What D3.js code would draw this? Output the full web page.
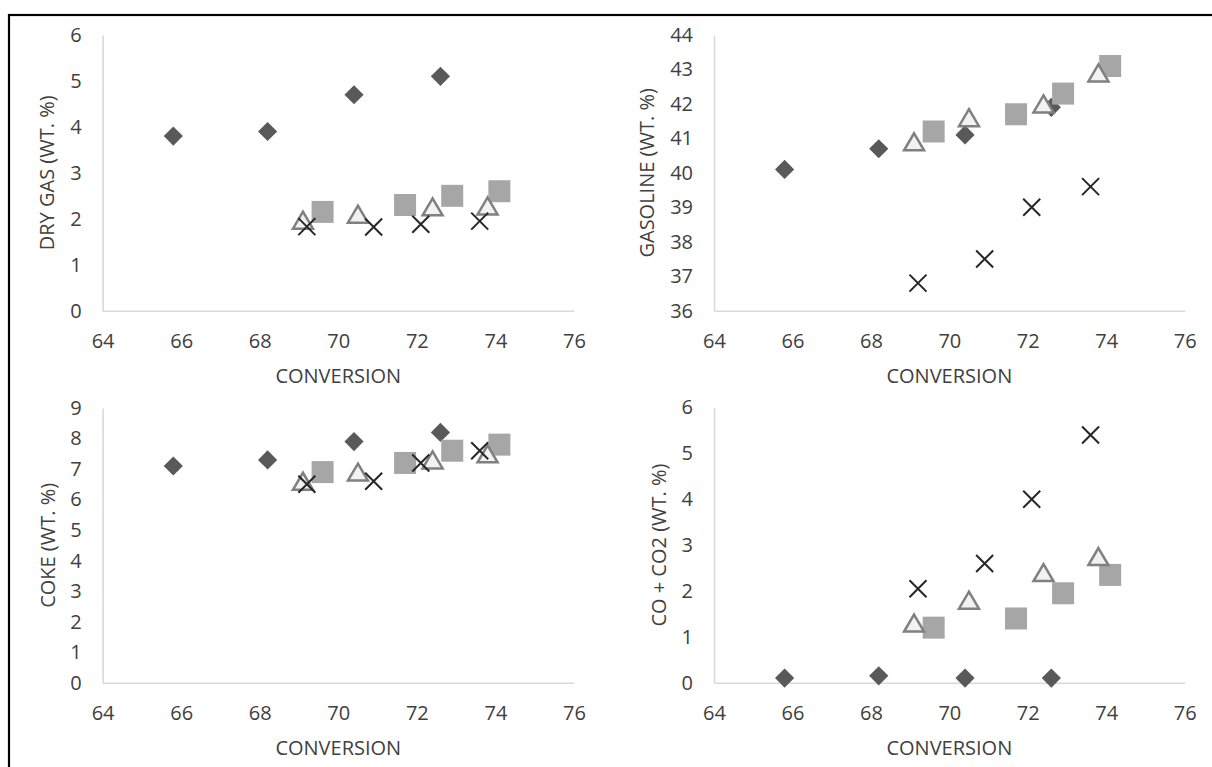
<!DOCTYPE html>
<html>
<head>
<meta charset="utf-8">
<script src="https://cdn.jsdelivr.net/npm/d3@7/dist/d3.min.js"></script>
<style>
  html, body { margin: 0; padding: 0; background: #fff; }
  svg { display: block; font-family: "Open Sans", "Noto Sans", sans-serif; }
</style>
</head>
<body>
<svg id="chart" width="1212" height="767"></svg>
<script>
// Conversion (x) for each catalyst series
const convDiamond  = [65.8, 68.2, 70.4, 72.6];
const convSquare   = [69.6, 71.7, 72.9, 74.1];
const convTriangle = [69.1, 70.5, 72.4, 73.8];
const convCross    = [69.2, 70.9, 72.1, 73.6];

// Dry gas yield (wt. %)
const dryGasDiamond  = [3.8, 3.9, 4.7, 5.1];
const dryGasSquare   = [2.15, 2.3, 2.5, 2.6];
const dryGasTriangle = [1.97, 2.1, 2.26, 2.28];
const dryGasCross    = [1.83, 1.82, 1.88, 1.95];

// Gasoline yield (wt. %)
const gasolineDiamond  = [40.1, 40.7, 41.1, 41.9];
const gasolineSquare   = [41.2, 41.7, 42.3, 43.1];
const gasolineTriangle = [40.9, 41.6, 42.0, 42.9];
const gasolineCross    = [36.8, 37.5, 39.0, 39.6];

// Coke yield (wt. %)
const cokeDiamond  = [7.1, 7.3, 7.9, 8.2];
const cokeSquare   = [6.9, 7.2, 7.6, 7.8];
const cokeTriangle = [6.6, 6.9, 7.3, 7.5];
const cokeCross    = [6.5, 6.6, 7.2, 7.6];

// CO + CO2 yield (wt. %)
const coxDiamond  = [0.1, 0.15, 0.1, 0.1];
const coxSquare   = [1.2, 1.4, 1.95, 2.35];
const coxTriangle = [1.3, 1.8, 2.4, 2.75];
const coxCross    = [2.05, 2.6, 4.0, 5.4];

// Axis ticks
const xTicks = [64, 66, 68, 70, 72, 74, 76];
const dryGasTicks = [0, 1, 2, 3, 4, 5, 6];
const gasolineTicks = [36, 37, 38, 39, 40, 41, 42, 43, 44];
const cokeTicks = [0, 1, 2, 3, 4, 5, 6, 7, 8, 9];
const coxTicks = [0, 1, 2, 3, 4, 5, 6];

const xTitle = "CONVERSION";

const panels = [
  { title: "DRY GAS (WT. %)", yTicks: dryGasTicks,
    series: [dryGasDiamond, dryGasSquare, dryGasTriangle, dryGasCross],
    left: 102.6, right: 574, top: 35, bottom: 310.7, titleX: 46.7 },
  { title: "GASOLINE (WT. %)", yTicks: gasolineTicks,
    series: [gasolineDiamond, gasolineSquare, gasolineTriangle, gasolineCross],
    left: 714, right: 1184.7, top: 35, bottom: 310.7, titleX: 647 },
  { title: "COKE (WT. %)", yTicks: cokeTicks,
    series: [cokeDiamond, cokeSquare, cokeTriangle, cokeCross],
    left: 102.6, right: 574, top: 408, bottom: 682.7, titleX: 47.5 },
  { title: "CO + CO2 (WT. %)", yTicks: coxTicks,
    series: [coxDiamond, coxSquare, coxTriangle, coxCross],
    left: 714, right: 1184.7, top: 407.5, bottom: 682.7, titleX: 658.5 }
];

const convs = [convDiamond, convSquare, convTriangle, convCross];

const textColor = "#404040";
const axisColor = "#d9d9d9";

const svg = d3.select("#chart");

// outer frame
svg.append("rect")
  .attr("x", 9).attr("y", 15)
  .attr("width", 1212).attr("height", 770)
  .attr("fill", "none").attr("stroke", "#000").attr("stroke-width", 2.2);

// marker shapes
const markers = [
  // diamond
  g => g.append("path").attr("d", "M0,-9.6L9.6,0L0,9.6L-9.6,0Z").attr("fill", "#595959"),
  // square
  g => g.append("rect").attr("x", -11).attr("y", -11).attr("width", 22).attr("height", 22).attr("fill", "#a6a6a6"),
  // triangle
  g => g.append("path").attr("d", "M0,-8.5L10,8.5L-10,8.5Z")
        .attr("fill", "#f2f2f2").attr("stroke", "#808080").attr("stroke-width", 2.5).attr("stroke-linejoin", "miter"),
  // cross
  g => g.append("path").attr("d", "M-8.5,-8.5L8.5,8.5M-8.5,8.5L8.5,-8.5")
        .attr("fill", "none").attr("stroke", "#262626").attr("stroke-width", 2)
];

panels.forEach(p => {
  const x = d3.scaleLinear().domain([64, 76]).range([p.left, p.right]);
  const yDom = d3.extent(p.yTicks);
  const y = d3.scaleLinear().domain(yDom).range([p.bottom, p.top]);

  const g = svg.append("g");

  // y axis
  const ya = g.append("g")
    .attr("transform", `translate(${p.left},0)`)
    .call(d3.axisLeft(y).tickValues(p.yTicks).tickSize(0).tickSizeOuter(0).tickPadding(21).tickFormat(d3.format("d")));
  // x axis
  const xa = g.append("g")
    .attr("transform", `translate(0,${p.bottom})`)
    .call(d3.axisBottom(x).tickValues(xTicks).tickSize(0).tickSizeOuter(0).tickPadding(23).tickFormat(d3.format("d")));

  [ya, xa].forEach(a => {
    a.select(".domain").attr("stroke", axisColor).attr("stroke-width", 1.6);
    a.selectAll("text").attr("fill", textColor).attr("font-size", 20)
      .attr("font-family", "'Open Sans', 'Noto Sans', sans-serif");
  });

  // axis titles
  g.append("text")
    .attr("x", (p.left + p.right) / 2)
    .attr("y", p.bottom + 65)
    .attr("dy", "0.35em")
    .attr("text-anchor", "middle")
    .attr("fill", textColor).attr("font-size", 20)
    .text(xTitle);

  g.append("text")
    .attr("transform", `translate(${p.titleX},${(p.top + p.bottom) / 2}) rotate(-90)`)
    .attr("dy", "0.35em")
    .attr("text-anchor", "middle")
    .attr("fill", textColor).attr("font-size", 20)
    .text(p.title);

  // series markers, drawn in series order
  p.series.forEach((vals, si) => {
    const pts = vals.map((v, i) => [convs[si][i], v]);
    g.append("g").selectAll("g")
      .data(pts).join("g")
      .attr("transform", d => `translate(${x(d[0])},${y(d[1])})`)
      .each(function () { markers[si](d3.select(this)); });
  });
});
</script>
</body>
</html>
